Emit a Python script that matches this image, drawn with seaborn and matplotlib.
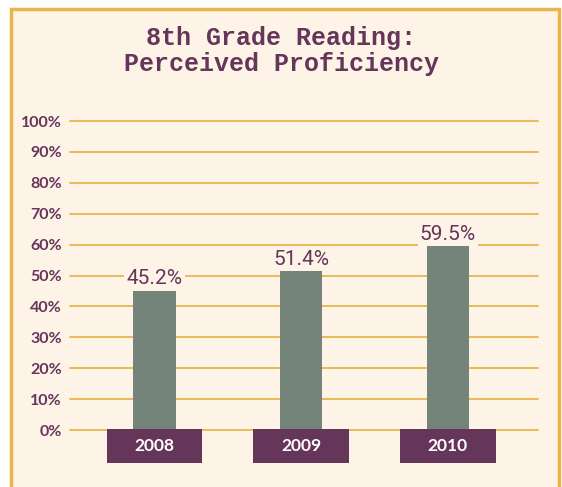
import pandas as pd
import numpy as np
import matplotlib.pyplot as plt
import seaborn as sns
from matplotlib.patches import Rectangle
from matplotlib.transforms import blended_transform_factory

# chart data
years = ['2008', '2009', '2010']
proficiency = [45.2, 51.4, 59.5]
yticks = [0, 10, 20, 30, 40, 50, 60, 70, 80, 90, 100]
title = '8th Grade Reading:\nPerceived Proficiency'

bg = '#fdf3e6'
gold = '#e8b54a'
purple = '#65355a'
bar_color = '#74847a'

df = pd.DataFrame({'year': years, 'value': proficiency})

sns.set_style('white')
fig = plt.figure(figsize=(5.62, 4.87), dpi=100, facecolor='white')

# gold frame with cream fill (open at the bottom)
fig.patches.append(Rectangle((11 / 562, -0.05), (559 - 11) / 562, 1 - 9 / 487 + 0.05,
                             transform=fig.transFigure, facecolor=bg, edgecolor=gold,
                             linewidth=2.5, zorder=-5))

ax = fig.add_axes([0.1246, 0.117, 0.957 - 0.1246, 0.7515 - 0.117])
ax.set_zorder(2)
ax.set_facecolor('none')

sns.barplot(data=df, x='year', y='value', color=bar_color, width=0.29,
            saturation=1, ax=ax, zorder=3, edgecolor='none', linewidth=0)

ax.set_ylim(0, 100)
ax.set_xlim(-0.576, 2.613)
ax.set_yticks(yticks)
ax.set_yticklabels([f'{t}%' for t in yticks], color=purple, fontweight='bold',
                   fontsize=11.5, family=['Lato', 'DejaVu Sans'])
ax.tick_params(axis='y', length=0, pad=6)
ax.set_xticks([])
ax.set_xlabel('')
ax.set_ylabel('')
ax.grid(axis='y', color=gold, linewidth=1.3, zorder=0)
ax.grid(axis='x', visible=False)
for gl in ax.get_ygridlines():
    gl.set_clip_on(False)
ax.set_axisbelow(True)
for s in ax.spines.values():
    s.set_visible(False)

# value labels above bars
for i, v in enumerate(proficiency):
    ax.text(i, v + 0.6, f'{v}%', ha='center', va='bottom', fontsize=15,
            color=purple, family=['Liberation Sans Narrow', 'Roboto', 'DejaVu Sans'],
            fontstretch='condensed', zorder=4,
            bbox=dict(facecolor=bg, edgecolor='none', pad=1.5))

# year boxes under the axis
trans = blended_transform_factory(ax.transData, ax.transAxes)
for i, y in enumerate(years):
    ax.add_patch(Rectangle((i - 0.327, -0.107), 0.654, 0.11, transform=trans,
                           facecolor=purple, edgecolor='none', clip_on=False, zorder=5))
    ax.text(i, -0.052, y, transform=trans, ha='center', va='center', color='white',
            fontsize=12.5, fontweight='bold', family=['Lato', 'DejaVu Sans'], zorder=6)

fig.text(0.5, 0.895, title, ha='center', va='center', fontsize=18, fontweight='bold',
         color=purple, family=['Liberation Mono', 'DejaVu Sans Mono'], linespacing=1.12)

fig.savefig('out.png', dpi=100, facecolor='white')
